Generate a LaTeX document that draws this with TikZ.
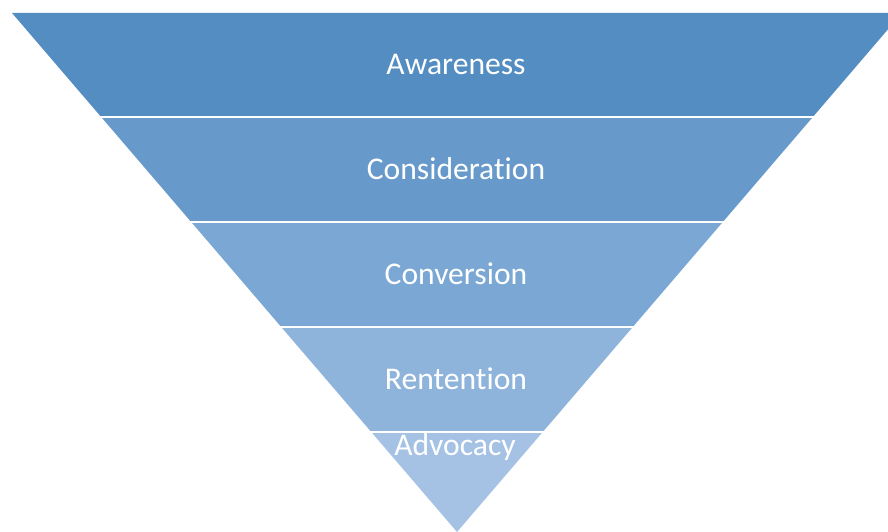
\documentclass[tikz,border=0pt]{standalone}
\usepackage{fontspec}
\setmainfont[Ligatures=NoCommon]{Carlito}
\definecolor{bandA}{RGB}{83,141,194}
\definecolor{bandB}{RGB}{103,153,202}
\definecolor{bandC}{RGB}{122,167,211}
\definecolor{bandD}{RGB}{143,180,220}
\definecolor{bandE}{RGB}{165,194,229}
\tikzset{
  lbl/.style={text=white, font=\fontsize{31.6}{37}\selectfont, anchor=base, inner sep=0pt},
  gap/.style={draw=white, line width=2.8pt},
}
\begin{document}
\begin{tikzpicture}[x=1pt,y=1pt]
\useasboundingbox (0,0) rectangle (888,532);
\clip (0,0) rectangle (888,532);
\def\apx{457}
\pgfmathsetmacro{\k}{445/519}
\coordinate (apex) at (457,0);
\foreach \ytop/\ybot/\col in {519/415/bandA, 415/310/bandB, 310/205/bandC, 205/100/bandD, 100/0/bandE}{
  \pgfmathsetmacro{\wt}{\ytop*\k}
  \pgfmathsetmacro{\wb}{\ybot*\k}
  \fill[\col] ({\apx-\wt},\ytop) -- ({\apx+\wt},\ytop) -- ({\apx+\wb},\ybot) -- ({\apx-\wb},\ybot) -- cycle;
}
\foreach \y in {415,310,205,100}{
  \draw[gap] (0,\y) -- (888,\y);
}
\node[lbl] (aw) at (456,457.5) {Awareness};
\node[lbl] (co) at (456,352.5) {Consideration};
\node[lbl] (cv) at (456,247.5) {Conversion};
\node[lbl] (re) at (456,142.5) {Rentention};
\node[lbl] (ad) at (455,76) {Advocacy};
\end{tikzpicture}
\end{document}
